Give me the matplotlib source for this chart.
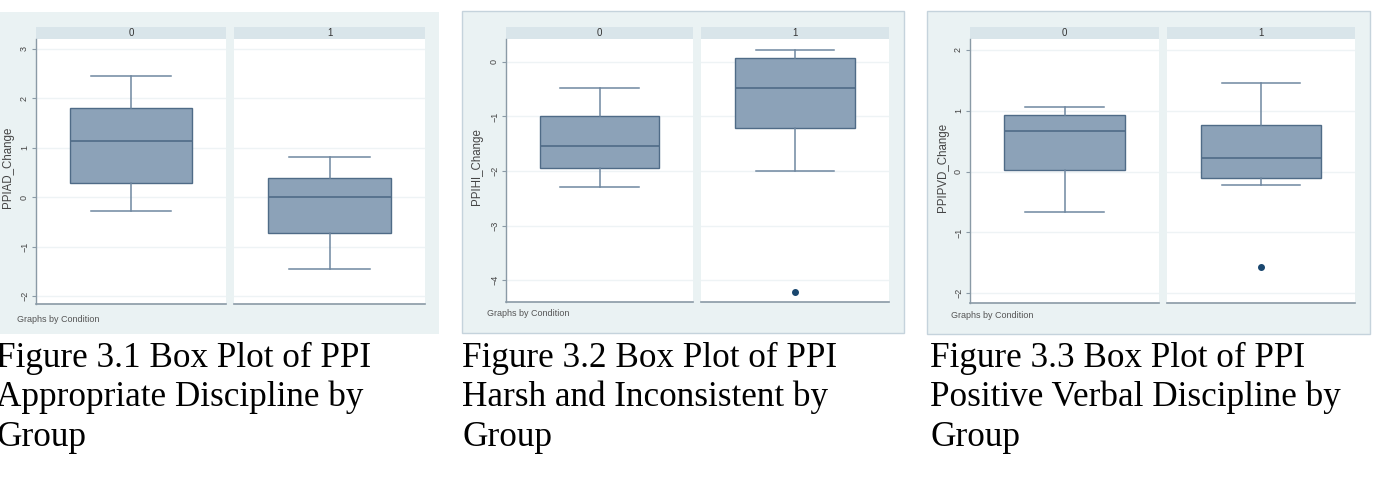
import matplotlib
matplotlib.use("Agg")
import matplotlib.pyplot as plt
import matplotlib.patches as mpatches

W, H = 1375, 480

# data (group 0, group 1)
groups = ["0", "1"]
ylabels = ["PPIAD_Change", "PPIHI_Change", "PPIPVD_Change"]
captions = [
    ["Figure 3.1 Box Plot of PPI", "Appropriate Discipline by", "Group"],
    ["Figure 3.2 Box Plot of PPI", "Harsh and Inconsistent by", "Group"],
    ["Figure 3.3 Box Plot of PPI", "Positive Verbal Discipline by", "Group"],
]
# whisker low, Q1, median, Q3, whisker high
ppiad = [[-0.28, 0.28, 1.13, 1.80, 2.45], [-1.45, -0.72, 0.00, 0.38, 0.82]]
ppihi = [[-2.30, -1.95, -1.55, -1.00, -0.47], [-2.00, -1.22, -0.47, 0.07, 0.22]]
ppipvd = [[-0.67, 0.03, 0.66, 0.93, 1.07], [-0.22, -0.10, 0.22, 0.77, 1.45]]
outliers = [[[], []], [[], [-4.22]], [[], [-1.57]]]
yticks = [[-2, -1, 0, 1, 2, 3], [-4, -3, -2, -1, 0], [-2, -1, 0, 1, 2]]
ylims = [(-2.16, 3.2), (-4.4, 0.42), (-2.16, 2.18)]

# layout in pixels
panels = [
    dict(bg=(0, 12, 439, 334), facets=[(36, 226), (234, 425)], plot=(39, 304),
         ylab=8, note=(17, 319), cap=-4, edge=False),
    dict(bg=(462, 11, 904, 333), facets=[(506, 693), (701, 889)], plot=(39, 302),
         ylab=477, note=(487, 314), cap=462, edge=True),
    dict(bg=(927, 11, 1370, 334), facets=[(970, 1159), (1167, 1355)], plot=(39, 303),
         ylab=943, note=(951, 316), cap=930, edge=True),
]

bg_col = "#eaf2f3"
strip_col = "#d9e5ea"
box_fill = "#8ca2b8"
box_edge = "#4f6b87"
whisk_col = "#6f87a0"
dot_col = "#1a476f"
axis_col = "#8a9aa6"
sans = "Liberation Sans"

fig = plt.figure(figsize=(W / 100, H / 100), dpi=100)
fig.patch.set_facecolor("white")


def rect(x0, y0, x1, y1):
    return [x0 / W, 1 - y1 / H, (x1 - x0) / W, (y1 - y0) / H]


for p, (pan, stats5, ylab) in enumerate(zip(panels, [ppiad, ppihi, ppipvd], ylabels)):
    bx0, by0, bx1, by1 = pan["bg"]
    fig.patches.append(mpatches.Rectangle(
        (bx0 / W, 1 - by1 / H), (bx1 - bx0) / W, (by1 - by0) / H,
        transform=fig.transFigure, facecolor=bg_col,
        edgecolor="#c5d3dc" if pan["edge"] else "none", linewidth=1, zorder=-2))

    top, bottom = pan["plot"]
    for g, (fx0, fx1) in enumerate(pan["facets"]):
        # strip header
        fig.patches.append(mpatches.Rectangle(
            (fx0 / W, 1 - top / H), (fx1 - fx0) / W, 12 / H,
            transform=fig.transFigure, facecolor=strip_col, edgecolor="none", zorder=-1))
        fig.text((fx0 + fx1) / 2 / W, 1 - (top - 6) / H, groups[g], ha="center",
                 va="center", fontsize=7, color="#333333", family=sans)

        ax = fig.add_axes(rect(fx0, top, fx1, bottom))
        ax.set_zorder(2)
        ax.set_facecolor("white")
        lo, q1, med, q3, hi = stats5[g]
        st = [dict(whislo=lo, q1=q1, med=med, q3=q3, whishi=hi, fliers=outliers[p][g])]
        ax.bxp(st, positions=[0], widths=0.64, capwidths=0.42, patch_artist=True,
               boxprops=dict(facecolor=box_fill, edgecolor=box_edge, linewidth=1),
               medianprops=dict(color=box_edge, linewidth=1.2),
               whiskerprops=dict(color=whisk_col, linewidth=1.1),
               capprops=dict(color=whisk_col, linewidth=1.1),
               flierprops=dict(marker="o", markersize=4, markerfacecolor=dot_col,
                               markeredgecolor=dot_col))
        ax.set_xlim(-0.5, 0.5)
        ax.set_ylim(*ylims[p])
        ax.set_yticks(yticks[p])
        ax.grid(axis="y", color="#eef3f5", linewidth=1)
        ax.set_axisbelow(True)
        ax.set_xticks([])
        for s in ["top", "right"]:
            ax.spines[s].set_visible(False)
        ax.spines["bottom"].set_color(axis_col)
        ax.spines["bottom"].set_linewidth(1.2)
        if g == 0:
            ax.spines["left"].set_color(axis_col)
            ax.spines["left"].set_linewidth(1.0)
            ax.tick_params(axis="y", length=3, width=0.8, color=axis_col, pad=2,
                           labelsize=6.5, labelcolor="#444444", labelrotation=90)
            for t in ax.get_yticklabels():
                t.set_family(sans)
                t.set_va("center")
        else:
            ax.spines["left"].set_visible(False)
            ax.tick_params(axis="y", length=0, labelleft=False)

    fig.text(pan["ylab"] / W, 1 - 167 / H, ylab, rotation=90, ha="center", va="center",
             fontsize=8.3, color="#444444", family=sans)
    nx, ny = pan["note"]
    fig.text(nx / W, 1 - ny / H, "Graphs by Condition", ha="left", va="center",
             fontsize=6.5, color="#555555", family=sans)

    for i, line in enumerate(captions[p]):
        fig.text(pan["cap"] / W, 1 - (367 + 39.5 * i) / H, line, ha="left",
                 va="baseline", fontsize=25.3, color="black", family="Liberation Serif")

fig.savefig("out.png", dpi=100, facecolor="white")
